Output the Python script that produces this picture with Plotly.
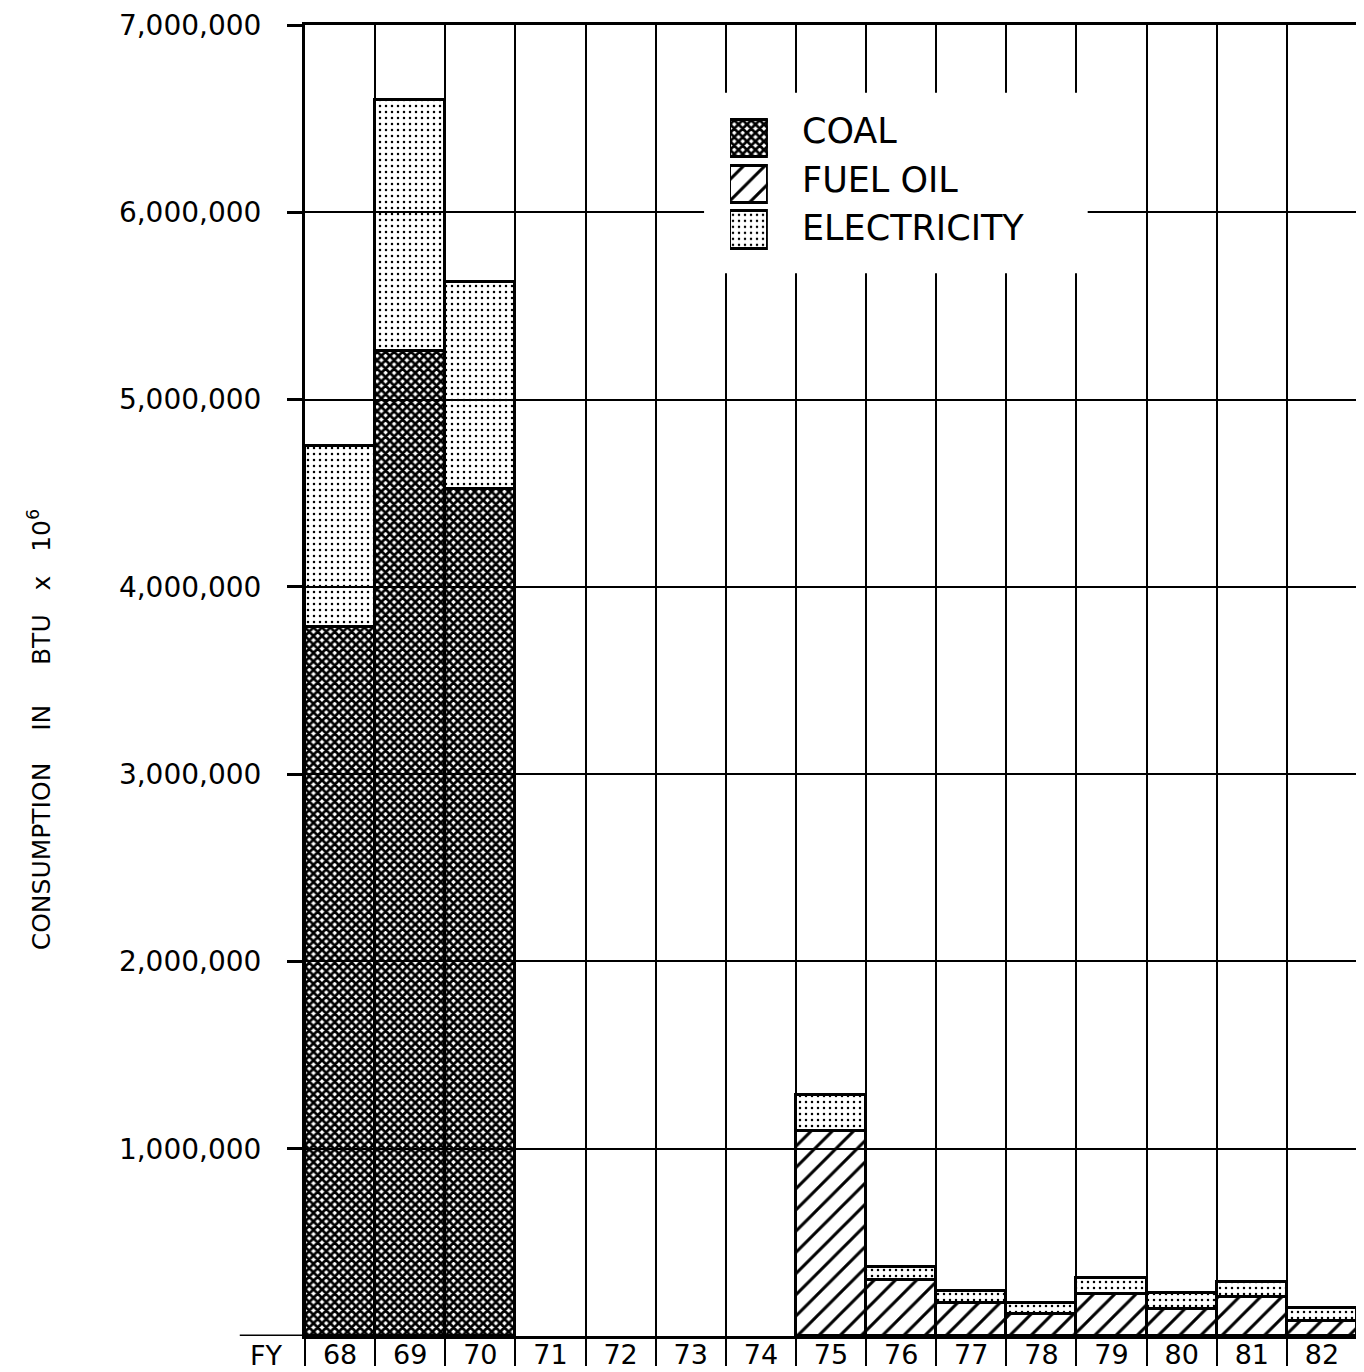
import plotly.graph_objects as go

years = ["68", "69", "70", "71", "72", "73", "74", "75", "76", "77", "78", "79", "80", "81", "82"]
coal = [3784000, 5259000, 4520000, None, None, None, None, None, None, None, None, None, None, None, None]
fuel_oil = [None, None, None, None, None, None, None, 1097000, 301000, 177000, 115000, 225000, 142000, 209000, 80000]
electricity = [967000, 1341000, 1107000, None, None, None, None, 190000, 67000, 65000, 60000, 85000, 90000, 79000, 70000]

y_ticks = [1000000, 2000000, 3000000, 4000000, 5000000, 6000000, 7000000]
y_ticktext = ["1,000,000", "2,000,000", "3,000,000", "4,000,000", "5,000,000", "6,000,000", "7,000,000"]

series_names = ["COAL", "FUEL OIL", "ELECTRICITY"]

FONT = "DejaVu Sans"
xpos = list(range(len(years)))
bounds = [i - 0.5 for i in range(len(years) + 1)]

line = dict(color="black", width=3)
patterns = [
    dict(shape="x", size=6, solidity=0.7, fillmode="replace"),
    dict(shape="/", size=15, solidity=0.2, fillmode="replace"),
    dict(shape=".", size=6, solidity=0.14, fillmode="replace"),
]
values = [coal, fuel_oil, electricity]

fig = go.Figure()
for name, vals, pat in zip(series_names, values, patterns):
    fig.add_trace(go.Bar(
        x=xpos, y=vals, name=name, showlegend=False,
        marker=dict(color="black", line=line, pattern=pat),
    ))

# legend key swatches drawn on a small inset axis
legend_rows = [2, 1, 0]
for name, row, pat in zip(series_names, legend_rows, patterns):
    fig.add_trace(go.Bar(
        x=[1], y=[row], orientation="h", width=0.82, name=name,
        showlegend=False, hoverinfo="skip", xaxis="x2", yaxis="y2",
        marker=dict(color="black", line=dict(color="black", width=3), pattern=pat),
    ))

# page body has an 8px margin, so the figure is sized/offset to compensate
fig.update_layout(
    width=1356, height=1364,
    margin=dict(l=297, r=7, t=17, b=36),
    paper_bgcolor="white", plot_bgcolor="white",
    barmode="stack", bargap=0,
    font=dict(family=FONT, color="black"),
    showlegend=False,
    xaxis=dict(
        range=[-0.5, len(years) - 0.5], automargin=False,
        tickmode="array", tickvals=xpos, ticktext=years,
        ticks="", showgrid=False, zeroline=False,
        showline=True, mirror=True, linecolor="black", linewidth=3,
        tickfont=dict(family=FONT, size=27, color="black"),
        ticklabelstandoff=-7, ticklabeloverflow="allow",
        minor=dict(tickmode="array", tickvals=bounds, ticks="outside", ticklen=27,
                   tickcolor="black", tickwidth=2, showgrid=True,
                   gridcolor="black", gridwidth=2),
    ),
    yaxis=dict(
        range=[0, 7000000], automargin=False,
        tickmode="array", tickvals=y_ticks, ticktext=y_ticktext,
        ticks="outside", ticklen=15, tickwidth=2.5, tickcolor="black",
        showgrid=True, gridcolor="black", gridwidth=2,
        zeroline=False, showline=True, linecolor="black", linewidth=3,
        tickfont=dict(family=FONT, size=28, color="black"),
        ticklabelstandoff=20, ticklabeloverflow="allow",
    ),
    xaxis2=dict(domain=[0.404, 0.440], range=[0, 1], visible=False, anchor="y2", fixedrange=True),
    yaxis2=dict(domain=[0.8265, 0.9307], range=[-0.5, 2.5], visible=False, anchor="x2", fixedrange=True),
)

# white background behind the legend block (covers the grid, stays below the bars)
fig.add_shape(type="rect", xref="x", yref="y", x0=5.19, x1=10.66, y0=5674000, y1=6638000,
              fillcolor="white", line=dict(width=0), layer="between")

# extension of base line to the left of the value axis
fig.add_shape(type="line", xref="paper", yref="y", x0=-0.062, x1=0, y0=0, y1=0,
              line=dict(color="black", width=3))

legend_text_y = [0.9193, 0.8820, 0.8455]
for name, ty in zip(series_names, legend_text_y):
    fig.add_annotation(text=name, xref="paper", yref="paper", x=0.471, y=ty,
                       xanchor="left", yanchor="middle", showarrow=False,
                       font=dict(family=FONT, size=35, color="black"))

fig.add_annotation(text="FY", xref="paper", yref="paper", x=-0.037, y=-0.0145,
                   xanchor="center", yanchor="middle", showarrow=False,
                   font=dict(family=FONT, size=27, color="black"))
fig.add_annotation(
    text="CONSUMPTION&nbsp;&nbsp;&nbsp;&nbsp;IN&nbsp;&nbsp;&nbsp;&nbsp;&nbsp;BTU&nbsp;&nbsp;&nbsp;x&nbsp;&nbsp;&nbsp;10<sup>6</sup>",
    xref="paper", yref="paper", x=-0.252, y=0.4627,
    xanchor="center", yanchor="middle", textangle=-90, showarrow=False,
    font=dict(family=FONT, size=25, color="black"))

fig.write_html("out.html")
